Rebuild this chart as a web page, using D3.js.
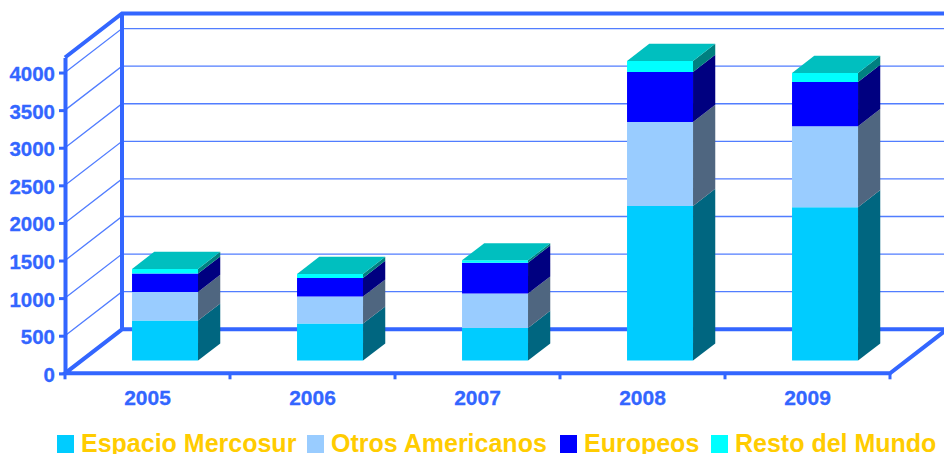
<!DOCTYPE html>
<html>
<head>
<meta charset="utf-8">
<script src="https://cdn.jsdelivr.net/npm/d3@7"></script>
<style>
    html, body { margin: 0; padding: 0; background: #fff; overflow: hidden; }
    svg { display: block; }
    text { font-family: "Liberation Sans", Arial, sans-serif; font-weight: bold; }
</style>
</head>
<body>
<svg width="944" height="454"></svg>
<script>
const years = ['2005', '2006', '2007', '2008', '2009'];
const series = ['Espacio Mercosur', 'Otros Americanos', 'Europeos', 'Resto del Mundo'];
const espacioMercosur = [532, 492, 434, 2056, 2039];
const otrosAmericanos = [381, 359, 456, 1117, 1077];
const europeos = [244, 248, 412, 665, 589];
const restoDelMundo = [62, 53, 31, 146, 120];
const yTicks = [0, 500, 1000, 1500, 2000, 2500, 3000, 3500, 4000];
const frontColors = ['#00ccff', '#99ccff', '#0000ff', '#00ffff'];
const sideColors = ['#006680', '#4f6680', '#000080', '#008080'];
const topColor = '#00bfbf';
const axisColor = '#3366ff';
const legendColor = '#ffcc00';

const svg = d3.select('svg');
const plot = { left: 65, right: 890, top: 57.5, bottom: 373.3 };
const depth = { x: 57, y: -44 };
const barDepth = { start: 0.29, end: 0.68 };

const mapY = d3.scaleLinear().domain([0, 4200]).range([plot.bottom, plot.top]);
const mapX = d3.scaleBand().domain(years).range([plot.left + 1, plot.right + 1]).paddingInner(0.6).paddingOuter(0.3);
const line = d3.line();
const shift = (x, y, d) => [x + depth.x * d, y + depth.y * d];

const table = years.map((y, i) => ({
    year: y,
    [series[0]]: espacioMercosur[i],
    [series[1]]: otrosAmericanos[i],
    [series[2]]: europeos[i],
    [series[3]]: restoDelMundo[i]
}));
const stacked = d3.stack().keys(series)(table);

//---- Grid
const grid = svg.append('g');
const gridTicks = yTicks.slice(1);
grid.selectAll('path').data(gridTicks).join('path')
    .attr('d', d => line([
        [plot.left, mapY(d)],
        shift(plot.left, mapY(d), 1),
        [plot.right + depth.x, mapY(d) + depth.y]
    ]))
    .attr('fill', 'none')
    .attr('stroke', axisColor)
    .attr('stroke-opacity', 0.85)
    .attr('stroke-width', 1.3);

//---- Frame
const corner = {
    topFront: [plot.left, plot.top],
    topBack: shift(plot.left, plot.top, 1),
    floorFront: [plot.left, plot.bottom],
    floorBack: shift(plot.left, plot.bottom, 1),
    floorRight: [plot.right, plot.bottom],
    floorRightBack: shift(plot.right, plot.bottom, 1)
};
const frame = [
    [corner.topFront, corner.topBack, [plot.right + depth.x, corner.topBack[1]]],
    [corner.topBack, corner.floorBack, corner.floorRightBack, corner.floorRight, corner.floorFront, corner.floorBack]
];
svg.append('g').selectAll('path').data(frame).join('path')
    .attr('d', d => line(d))
    .attr('fill', 'none')
    .attr('stroke', axisColor)
    .attr('stroke-width', 4);

//---- Axes
const yAxis = d3.axisLeft(mapY).tickValues(yTicks).tickSizeInner(6).tickSizeOuter(0).tickPadding(4).tickFormat(d3.format('d'));
const gY = svg.append('g').attr('transform', `translate(${plot.left}, 0)`).call(yAxis);
gY.select('.domain').attr('stroke', axisColor).attr('stroke-width', 4);
gY.selectAll('line').attr('stroke', axisColor).attr('stroke-width', 3);
gY.selectAll('text')
    .attr('fill', axisColor)
    .attr('stroke', axisColor)
    .attr('stroke-width', 0.3)
    .attr('font-size', 20.5)
    .attr('dy', '0.39em');

const xTicks = d3.range(years.length + 1).map(i => plot.left + i * (plot.right - plot.left) / years.length);
svg.append('g').selectAll('line').data(xTicks).join('line')
    .attr('x1', d => d).attr('x2', d => d)
    .attr('y1', plot.bottom).attr('y2', plot.bottom + 6)
    .attr('stroke', axisColor).attr('stroke-width', 3);
const xLabels = d3.scalePoint().domain(years).range([plot.left + 82.5, plot.right - 82.5]);
svg.append('g').selectAll('text').data(years).join('text')
    .attr('x', d => xLabels(d))
    .attr('y', 404.5)
    .attr('text-anchor', 'middle')
    .attr('fill', axisColor)
    .attr('stroke', axisColor)
    .attr('stroke-width', 0.3)
    .attr('font-size', 21)
    .text(d => d);

//---- Barras
const barFace = (a, b, dA, dB, y0, y1) => line([
    shift(a, y0, dA), shift(b, y0, dB), shift(b, y1, dB), shift(a, y1, dA)
]);
const bars = svg.append('g');
stacked.forEach((layer, s) => {
    layer.forEach(d => {
        const x0 = mapX(d.data.year);
        const x1 = x0 + mapX.bandwidth();
        const y0 = mapY(d[0]);
        const y1 = mapY(d[1]);
        bars.append('path')
            .attr('d', barFace(x1, x1, barDepth.start, barDepth.end, y0, y1) + 'Z')
            .attr('fill', sideColors[s]);
        bars.append('path')
            .attr('d', barFace(x0, x1, barDepth.start, barDepth.start, y0, y1) + 'Z')
            .attr('fill', frontColors[s]);
        if (s === series.length - 1) {
            bars.append('path')
                .attr('d', line([
                    shift(x0, y1, barDepth.start),
                    shift(x1, y1, barDepth.start),
                    shift(x1, y1, barDepth.end),
                    shift(x0, y1, barDepth.end)
                ]) + 'Z')
                .attr('fill', topColor);
        }
    });
});

//---- Legend
const legendX = [57, 307, 560, 711];
const legend = svg.append('g').selectAll('g').data(series).join('g')
    .attr('transform', (d, i) => `translate(${legendX[i]}, 435)`);
legend.append('rect')
    .attr('width', 17).attr('height', 18)
    .attr('fill', (d, i) => frontColors[i]);
legend.append('text')
    .attr('x', 24)
    .attr('y', 16.5)
    .attr('fill', legendColor)
    .attr('font-size', 25)
    .text(d => d);
</script>
</body>
</html>
